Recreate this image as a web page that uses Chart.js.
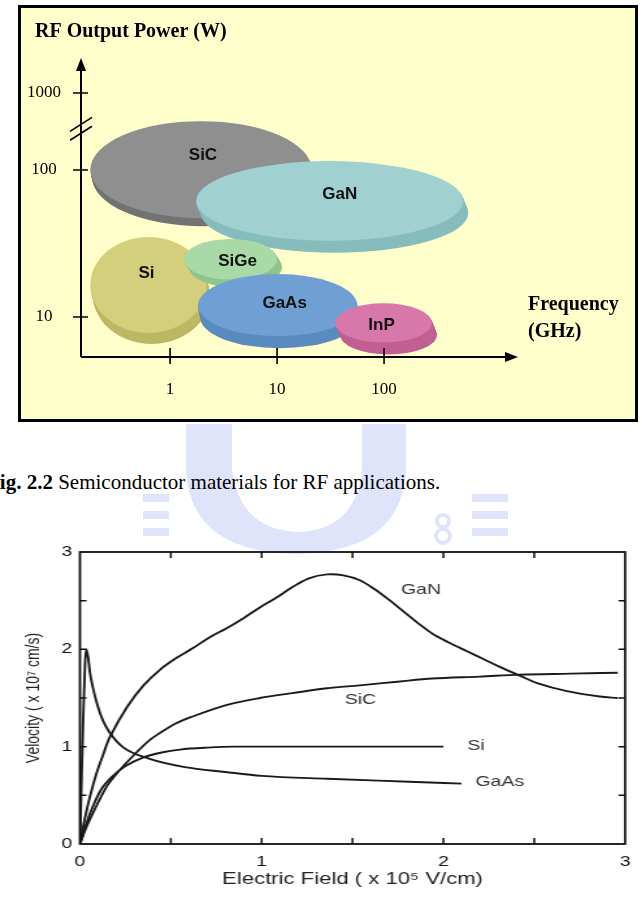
<!DOCTYPE html>
<html>
<head>
<meta charset="utf-8">
<script src="https://cdn.jsdelivr.net/npm/chart.js@4.4.0/dist/chart.umd.min.js"></script>
<style>
html, body { margin: 0; padding: 0; background: #fff; }
body { width: 642px; height: 899px; position: relative; overflow: hidden; }
#wm { position: absolute; left: 0; top: 0; }
#topWrap { position: absolute; left: 0; top: 0; width: 642px; height: 430px; }
#caption { position: absolute; left: -13px; top: 472px; font-family: "Liberation Serif", serif; font-size: 21px; line-height: 20px; white-space: nowrap; color: #000; }
#bottomWrap { position: absolute; left: 0; top: 520px; width: 494px; height: 379px; transform: scaleX(1.3); transform-origin: 0 0; }
</style>
</head>
<body>
<!-- faint watermark behind the caption -->
<svg id="wm" width="642" height="600">
	<g fill="#e0e4fa">
		<path d="M186,424 L406,424 L406,470 Q402,552 296,554 Q190,552 186,470 Z"/>
		<rect x="143" y="494" width="26" height="8"/>
		<rect x="143" y="511" width="26" height="8"/>
		<rect x="143" y="528" width="26" height="8"/>
		<rect x="472" y="494" width="36" height="8"/>
		<rect x="472" y="511" width="36" height="8"/>
		<rect x="472" y="528" width="36" height="8"/>
	</g>
	<path d="M232,424 L362,424 L362,470 Q356,530 298,532 Q240,530 232,470 Z" fill="#fff"/>
	<g fill="none" stroke="#e0e4fa" stroke-width="4">
		<circle cx="443" cy="521" r="6"/>
		<circle cx="443" cy="536" r="7"/>
	</g>
</svg>
<div id="topWrap"><canvas id="topChart"></canvas></div>
<div id="caption"><b>Fig. 2.2</b> Semiconductor materials for RF applications.</div>
<div id="bottomWrap"><canvas id="bottomChart"></canvas></div>
<script>
// ---- Fig 2.2 : materials vs frequency / output power ----
const materials = ['SiC', 'GaN', 'Si', 'SiGe', 'GaAs', 'InP'];
const freqLow = [0.18, 1.75, 0.18, 1.35, 1.83, 35];     // GHz
const freqHigh = [21, 550, 2.2, 10, 56, 280];
const powerLow = [47, 33, 7.8, 18, 7.4, 6.7];           // W
const powerHigh = [215, 115, 35, 34, 19.6, 12.4];
const freqTicks = [1, 10, 100];
const powerTicks = [10, 100, 1000];

// ---- velocity vs electric field ----
const fieldGaN = [0, 0.02, 0.05, 0.09, 0.13, 0.165, 0.26, 0.35, 0.44, 0.53, 0.62, 0.71, 0.81, 0.90, 0.99, 1.08, 1.17, 1.26, 1.36, 1.45, 1.54, 1.62, 1.70, 1.78, 1.86, 1.94, 2.03, 2.13, 2.22, 2.31, 2.42, 2.52, 2.68, 2.86, 2.96];
const velGaN = [0, 0.2, 0.45, 0.72, 0.93, 1.10, 1.41, 1.63, 1.79, 1.91, 2.01, 2.12, 2.22, 2.32, 2.43, 2.53, 2.64, 2.73, 2.77, 2.76, 2.71, 2.62, 2.51, 2.39, 2.27, 2.16, 2.07, 1.98, 1.90, 1.82, 1.73, 1.65, 1.57, 1.515, 1.50];
const fieldSiC = [0, 0.03, 0.08, 0.15, 0.2, 0.3, 0.385, 0.44, 0.53, 0.62, 0.81, 0.99, 1.17, 1.36, 1.54, 1.76, 1.94, 2.2, 2.42, 2.7, 2.96];
const velSiC = [0, 0.15, 0.35, 0.6, 0.72, 0.92, 1.07, 1.14, 1.24, 1.31, 1.43, 1.50, 1.55, 1.60, 1.63, 1.67, 1.70, 1.72, 1.74, 1.75, 1.76];
const fieldSi = [0, 0.03, 0.07, 0.12, 0.17, 0.25, 0.35, 0.45, 0.55, 0.7, 0.85, 1.0, 1.5, 2.0];
const velSi = [0, 0.18, 0.38, 0.57, 0.68, 0.80, 0.89, 0.94, 0.97, 0.99, 1.0, 1.0, 1.0, 1.0];
const fieldGaAs = [0, 0.008, 0.018, 0.028, 0.035, 0.045, 0.055, 0.071, 0.099, 0.126, 0.165, 0.24, 0.375, 0.577, 0.8, 1.0, 1.36, 1.81, 2.1];
const velGaAs = [0, 0.6, 1.3, 1.85, 2.0, 1.92, 1.76, 1.61, 1.41, 1.27, 1.14, 0.99, 0.88, 0.79, 0.74, 0.70, 0.67, 0.64, 0.62];
const fieldTicks = [0, 1, 2, 3];
const velTicks = [0, 1, 2, 3];

// styles
const faceColors = ['#8f8f8f', '#a0d0d0', '#d3cf7c', '#a9d9a6', '#6f9fd3', '#d877aa'];
const sideColors = ['#737373', '#87bcbd', '#bcb863', '#8fc58d', '#5a8bbf', '#c25f93'];
const sideShift = [[2, 8], [5, 12], [3, 11], [5, 8], [2, 12], [5, 12]];
const labelNudge = [[2, -14], [10, -7], [-2, -12], [7, 2], [7, -2], [-2, 2]];
const breakCut = 0.476;   // 1000 W sits closer because of the axis break

function axisPower(p) {
	return Math.log10(p) - (p >= 1000 ? breakCut : 0);
}

const serif = '"Liberation Serif", "Times New Roman", serif';
const sans = '"Liberation Sans", Arial, sans-serif';

const bubbleDraw = {
	id: 'bubbleDraw',
	beforeDraw(chart) {
		const c = chart.ctx;
		c.save();
		c.fillStyle = '#ffffcc';
		c.fillRect(19, 6, 618, 415);
		c.lineWidth = 3;
		c.strokeStyle = '#000';
		c.strokeRect(19.5, 6.5, 617, 414);
		c.restore();
	},
	afterDraw(chart) {
		const c = chart.ctx;
		const xs = chart.scales.x, ys = chart.scales.y;
		const area = chart.chartArea;
		c.save();

		// discs
		const centers = [];
		materials.forEach((name, i) => {
			const x0 = xs.getPixelForValue(freqLow[i]), x1 = xs.getPixelForValue(freqHigh[i]);
			const y0 = ys.getPixelForValue(axisPower(powerHigh[i])), y1 = ys.getPixelForValue(axisPower(powerLow[i]));
			const cx = (x0 + x1) / 2, cy = (y0 + y1) / 2, rx = (x1 - x0) / 2, ry = (y1 - y0) / 2;
			const dx = sideShift[i][0], dy = sideShift[i][1];
			c.fillStyle = sideColors[i];
			for (let k = dy; k > 0; k--) {
				c.beginPath();
				c.ellipse(cx + dx * k / dy, cy + k, rx, ry, 0, 0, Math.PI * 2);
				c.fill();
			}
			c.fillStyle = faceColors[i];
			c.beginPath();
			c.ellipse(cx, cy, rx, ry, 0, 0, Math.PI * 2);
			c.fill();
			centers.push([cx, cy]);
		});
		c.fillStyle = '#111';
		c.font = 'bold 17px ' + sans;
		c.textAlign = 'center';
		c.textBaseline = 'middle';
		materials.forEach((name, i) => {
			c.fillText(name, centers[i][0] + labelNudge[i][0], centers[i][1] + labelNudge[i][1]);
		});

		// axes with arrows
		const ax = area.left, ay = area.bottom;
		c.strokeStyle = '#000';
		c.fillStyle = '#000';
		c.lineWidth = 2;
		c.beginPath();
		c.moveTo(ax, ay);
		c.lineTo(ax, area.top + 8);
		c.moveTo(ax, ay);
		c.lineTo(area.right - 8, ay);
		c.stroke();
		c.beginPath();
		c.moveTo(ax, area.top);
		c.lineTo(ax - 5, area.top + 13);
		c.lineTo(ax + 5, area.top + 13);
		c.closePath();
		c.fill();
		c.beginPath();
		c.moveTo(area.right, ay);
		c.lineTo(area.right - 13, ay - 5);
		c.lineTo(area.right - 13, ay + 5);
		c.closePath();
		c.fill();

		c.lineWidth = 1.6;
		c.beginPath();
		freqTicks.forEach(v => {
			const x = xs.getPixelForValue(v);
			c.moveTo(x, ay - 9);
			c.lineTo(x, ay + 7);
		});
		powerTicks.forEach(p => {
			const y = ys.getPixelForValue(axisPower(p));
			c.moveTo(ax - 8, y);
			c.lineTo(ax + 7, y);
		});
		// axis break
		[2.25, 2.31].forEach(u => {
			const y = ys.getPixelForValue(u);
			c.moveTo(ax - 11, y + 7);
			c.lineTo(ax + 11, y - 7);
		});
		c.stroke();

		c.font = 'bold 20px ' + serif;
		c.textAlign = 'left';
		c.textBaseline = 'alphabetic';
		c.fillText('RF Output Power (W)', 35, 37);
		c.textBaseline = 'middle';
		c.fillText('Frequency', 528, 305);
		c.fillText('(GHz)', 528, 332);
		c.restore();
	}
};

new Chart(document.getElementById('topChart'), {
	type: 'scatter',
	data: { datasets: [] },
	options: {
		responsive: true,
		maintainAspectRatio: false,
		animation: false,
		events: [],
		layout: { padding: { left: 19, right: 124, top: 58, bottom: 33 } },
		plugins: { legend: { display: false }, tooltip: { enabled: false } },
		scales: {
			x: {
				type: 'logarithmic',
				min: 0.147,
				max: 1786,
				grid: { display: false, drawTicks: false },
				border: { display: false },
				afterBuildTicks: s => { s.ticks = freqTicks.map(v => ({ value: v })); },
				afterFit: s => { s.height = 40; },
				ticks: { padding: 22, color: '#000', font: { family: serif, size: 17 }, callback: v => String(v) }
			},
			y: {
				type: 'linear',
				min: 0.728,
				max: 2.762,
				grid: { display: false, drawTicks: false },
				border: { display: false },
				afterBuildTicks: s => { s.ticks = powerTicks.map(p => ({ value: axisPower(p) })); },
				afterFit: s => { s.width = 62; },
				ticks: { padding: 20, crossAlign: 'center', color: '#000', font: { family: serif, size: 17 }, callback: (v, i) => String(powerTicks[i]) }
			}
		}
	},
	plugins: [bubbleDraw]
});

// ---- bottom chart ----
const curveLabels = [
	{ text: 'GaN', x: 1.877, y: 2.61 },
	{ text: 'SiC', x: 1.544, y: 1.48 },
	{ text: 'Si', x: 2.18, y: 1.01 },
	{ text: 'GaAs', x: 2.31, y: 0.64 }
];

const frameTicks = {
	id: 'frameTicks',
	afterDatasetsDraw(chart) {
		const c = chart.ctx;
		const xs = chart.scales.x, ys = chart.scales.y;
		const a = chart.chartArea;
		c.save();
		c.strokeStyle = '#111';
		c.lineWidth = 1.8;
		c.strokeRect(a.left, a.top, a.right - a.left, a.bottom - a.top);
		c.lineWidth = 1.5;
		c.beginPath();
		for (let v = 0.5; v < 3; v += 0.5) {
			const x = xs.getPixelForValue(v);
			c.moveTo(x, a.bottom); c.lineTo(x, a.bottom - 6);
			c.moveTo(x, a.top); c.lineTo(x, a.top + 6);
			const y = ys.getPixelForValue(v);
			c.moveTo(a.left, y); c.lineTo(a.left + 5, y);
			c.moveTo(a.right, y); c.lineTo(a.right - 5, y);
		}
		c.stroke();
		c.fillStyle = '#333';
		c.font = '15px ' + sans;
		c.textAlign = 'center';
		c.textBaseline = 'middle';
		curveLabels.forEach(l => c.fillText(l.text, xs.getPixelForValue(l.x), ys.getPixelForValue(l.y)));
		c.restore();
	}
};

function curve(xv, yv, mode) {
	return {
		data: xv.map((x, i) => ({ x: x, y: yv[i] })),
		showLine: true,
		borderColor: '#1a1a1a',
		borderWidth: 1.9,
		pointRadius: 0,
		cubicInterpolationMode: mode,
		tension: 0.35,
		fill: false
	};
}

new Chart(document.getElementById('bottomChart'), {
	type: 'scatter',
	data: {
		datasets: [
			curve(fieldGaN, velGaN, 'default'),
			curve(fieldSiC, velSiC, 'monotone'),
			curve(fieldSi, velSi, 'monotone'),
			curve(fieldGaAs, velGaAs, 'monotone')
		]
	},
	options: {
		responsive: true,
		maintainAspectRatio: false,
		animation: false,
		events: [],
		layout: { padding: { left: 0, right: 12.5, top: 32, bottom: 0 } },
		plugins: { legend: { display: false }, tooltip: { enabled: false } },
		scales: {
			x: {
				min: 0,
				max: 3,
				grid: { display: false, drawTicks: false },
				border: { display: false },
				afterBuildTicks: s => { s.ticks = fieldTicks.map(v => ({ value: v })); },
				afterFit: s => { s.height = 55; },
				ticks: { padding: 9, color: '#111', font: { family: sans, size: 15 } },
				title: { display: true, text: 'Electric Field ( x 10\u2075 V/cm)', color: '#222', font: { family: sans, size: 17 }, padding: { top: 0, bottom: 9 } }
			},
			y: {
				min: 0,
				max: 3,
				grid: { display: false, drawTicks: false },
				border: { display: false },
				afterBuildTicks: s => { s.ticks = velTicks.map(v => ({ value: v })); },
				afterFit: s => { s.width = 61.5; },
				ticks: { padding: 6, color: '#111', font: { family: sans, size: 15 } },
				title: { display: true, text: 'Velocity ( x 10\u2077 cm/s)', color: '#222', font: { family: sans, size: 14 }, padding: { top: 18, bottom: 0 } }
			}
		}
	},
	plugins: [frameTicks]
});
</script>
</body>
</html>
